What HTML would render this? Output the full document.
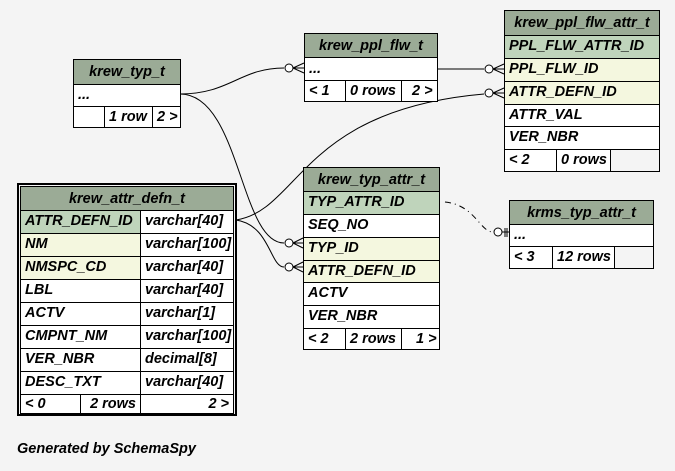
<!DOCTYPE html>
<html><head><style>
body{margin:0;width:675px;height:471px;background:#f4f4f4;position:relative;overflow:hidden;font-family:"Liberation Sans",Arial,sans-serif;font-weight:bold;font-style:italic;font-size:14.5px;color:#000}
.t{position:absolute;border:1px solid #000;background:#fff;box-sizing:border-box}
.r{position:absolute;left:0;right:0;border-top:1px solid #000;box-sizing:border-box;padding-left:4px;line-height:21px;white-space:nowrap}
.h{background:#9bab96;text-align:center;padding-left:0;border-top:none;top:0}
.pk{background:#bfd4bb}.fk{background:#f4f7df}
.c{position:absolute;top:0;bottom:0;border-left:1px solid #000;padding-left:4px;box-sizing:border-box}
</style></head><body>
<svg width="675" height="471" style="position:absolute;left:0;top:0" fill="none" stroke="#000" stroke-width="1">
<path d="M180,94 C230,94 240,68 284,68"/>
<path d="M180,94 C240,94 240,243 284,243"/>
<path d="M236,220 C300,210 300,110 484,94"/>
<path d="M236,220 C270,225 270,267 284,267"/>
<path d="M437,69 L484,69"/>
<path d="M445,202 C475,205 480,232 493,232" stroke-dasharray="6,4,1,4"/>
<circle cx="289" cy="68" r="4" fill="#fff"/><path d="M293,68 L304,63 M293,68 L304,73 M293,68 L304,68"/>
<circle cx="289" cy="243" r="4" fill="#fff"/><path d="M293,243 L303,238 M293,243 L303,248 M293,243 L303,243"/>
<circle cx="289" cy="267" r="4" fill="#fff"/><path d="M293,267 L303,262 M293,267 L303,272 M293,267 L303,267"/>
<circle cx="489" cy="69" r="4" fill="#fff"/><path d="M493,69 L504,64 M493,69 L504,74 M493,69 L504,69"/>
<circle cx="489" cy="93" r="4" fill="#fff"/><path d="M493,93 L504,88 M493,93 L504,98 M493,93 L504,93"/>
<circle cx="498" cy="232" r="4" fill="#fff"/><path d="M502,232 L509,232 M505,228 L505,237 M507,228 L507,237"/>
</svg>

<div class="t" style="left:73px;top:59px;width:108px;height:69px">
<div class="r h" style="height:24px;line-height:24px">krew_typ_t</div>
<div class="r" style="top:24px;height:22px">...</div>
<div class="r" style="top:46px;height:21px"><div class="c" style="left:30px;width:48px">1 row</div><div class="c" style="left:78px">2 &gt;</div></div>
</div>

<div class="t" style="left:304px;top:33px;width:134px;height:69px">
<div class="r h" style="height:24px;line-height:24px">krew_ppl_flw_t</div>
<div class="r" style="top:23px;height:24px;line-height:22px">...</div>
<div class="r" style="top:46px;height:21px">&lt; 1<div class="c" style="left:40px;width:56px">0 rows</div><div class="c" style="left:96px;padding-left:10px">2 &gt;</div></div>
</div>

<div class="t" style="left:504px;top:10px;width:156px;height:162px">
<div class="r h" style="height:25px;line-height:24px">krew_ppl_flw_attr_t</div>
<div class="r pk" style="top:24px;height:23px">PPL_FLW_ATTR_ID</div>
<div class="r fk" style="top:47px;height:23px">PPL_FLW_ID</div>
<div class="r fk" style="top:70px;height:23px">ATTR_DEFN_ID</div>
<div class="r" style="top:93px;height:22px">ATTR_VAL</div>
<div class="r" style="top:115px;height:23px">VER_NBR</div>
<div class="r" style="top:138px;height:22px;background:#f4f4f4"><span style="background:#fff;position:absolute;left:0;top:0;bottom:0;width:104px;padding-left:4px;box-sizing:border-box">&lt; 2</span><div class="c" style="left:51px;width:54px;background:#fff">0 rows</div><div class="c" style="left:105px"></div></div>
</div>

<div class="t" style="left:303px;top:167px;width:137px;height:183px">
<div class="r h" style="height:24px;line-height:24px">krew_typ_attr_t</div>
<div class="r pk" style="top:23px;height:23px">TYP_ATTR_ID</div>
<div class="r" style="top:46px;height:23px">SEQ_NO</div>
<div class="r fk" style="top:69px;height:23px">TYP_ID</div>
<div class="r fk" style="top:92px;height:22px">ATTR_DEFN_ID</div>
<div class="r" style="top:114px;height:23px">ACTV</div>
<div class="r" style="top:137px;height:23px">VER_NBR</div>
<div class="r" style="top:160px;height:21px">&lt; 2<div class="c" style="left:41px;width:56px">2 rows</div><div class="c" style="left:97px;padding-left:14px">1 &gt;</div></div>
</div>

<div class="t" style="left:509px;top:200px;width:145px;height:69px">
<div class="r h" style="height:24px;line-height:24px">krms_typ_attr_t</div>
<div class="r" style="top:23px;height:23px">...</div>
<div class="r" style="top:45px;height:22px;background:#f4f4f4"><span style="position:absolute;left:0;top:0;bottom:0;width:104px;background:#fff;padding-left:4px;box-sizing:border-box">&lt; 3</span><div class="c" style="left:42px;width:62px;background:#fff">12 rows</div><div class="c" style="left:104px"></div></div>
</div>

<div style="position:absolute;left:17px;top:183px;width:220px;height:233px;border:2px solid #000;box-sizing:border-box"></div>
<div class="t" style="left:20px;top:186px;width:214px;height:228px">
<div class="r h" style="height:24px;line-height:24px">krew_attr_defn_t</div>
<div class="r pk" style="top:23px;height:23px">ATTR_DEFN_ID<div class="c" style="left:119px;right:0;background:#fff">varchar[40]</div></div>
<div class="r fk" style="top:46px;height:23px">NM<div class="c" style="left:119px;right:0;background:#fff">varchar[100]</div></div>
<div class="r fk" style="top:69px;height:23px">NMSPC_CD<div class="c" style="left:119px;right:0;background:#fff">varchar[40]</div></div>
<div class="r" style="top:92px;height:23px">LBL<div class="c" style="left:119px;right:0">varchar[40]</div></div>
<div class="r" style="top:115px;height:23px">ACTV<div class="c" style="left:119px;right:0">varchar[1]</div></div>
<div class="r" style="top:138px;height:23px">CMPNT_NM<div class="c" style="left:119px;right:0">varchar[100]</div></div>
<div class="r" style="top:161px;height:23px">VER_NBR<div class="c" style="left:119px;right:0">decimal[8]</div></div>
<div class="r" style="top:184px;height:23px">DESC_TXT<div class="c" style="left:119px;right:0">varchar[40]</div></div>
<div class="r" style="top:207px;height:19px;line-height:19px">&lt; 0<div class="c" style="left:59px;width:60px;text-align:right;padding-right:4px">2 rows</div><div class="c" style="left:119px;right:0;text-align:right;padding-right:4px">2 &gt;</div></div>
</div>

<div style="position:absolute;left:17px;top:441px">Generated by SchemaSpy</div>
</body></html>
